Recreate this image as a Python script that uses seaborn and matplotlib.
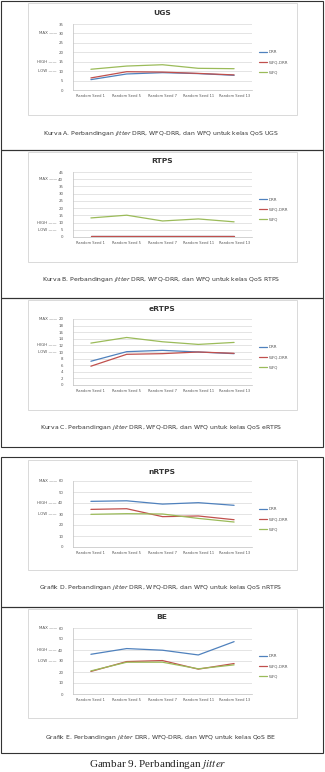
import matplotlib
matplotlib.use("Agg")
import matplotlib.pyplot as plt
from matplotlib.patches import Rectangle
import seaborn as sns
import pandas as pd

sns.set_theme(style="white")
plt.rcParams['font.family'] = ['DejaVu Sans']
plt.rcParams['mathtext.fontset'] = 'custom'
plt.rcParams['mathtext.it'] = 'DejaVu Sans:italic'
plt.rcParams['mathtext.rm'] = 'DejaVu Sans'

# ---------------- data ----------------
seeds = ['Random Seed 1', 'Random Seed 5', 'Random Seed 7', 'Random Seed 11', 'Random Seed 13']
series_names = ['DRR', 'WFQ-DRR', 'WFQ']

ugs_drr = [5.5, 8.5, 9.2, 8.7, 7.8]
ugs_wfqdrr = [6.4, 9.7, 9.5, 8.8, 8.0]
ugs_wfq = [11.0, 12.7, 13.4, 11.5, 11.3]

rtps_drr = [0.4, 0.4, 0.4, 0.4, 0.4]
rtps_wfqdrr = [0.5, 0.5, 0.5, 0.5, 0.5]
rtps_wfq = [13.2, 15.1, 11.1, 12.5, 10.5]

ertps_drr = [7.2, 10.1, 10.5, 10.0, 9.5]
ertps_wfqdrr = [5.7, 9.3, 9.5, 10.0, 9.6]
ertps_wfq = [12.7, 14.4, 13.1, 12.3, 12.9]

nrtps_drr = [41.5, 42.0, 39.0, 40.3, 37.9]
nrtps_wfqdrr = [34.2, 34.8, 27.6, 28.2, 24.8]
nrtps_wfq = [29.7, 30.3, 30.0, 26.0, 22.7]

be_drr = [36.1, 41.3, 39.8, 35.5, 47.6]
be_wfqdrr = [20.5, 29.5, 30.4, 22.6, 27.7]
be_wfq = [21.0, 28.9, 28.9, 22.9, 26.5]

titles = ['UGS', 'RTPS', 'eRTPS', 'nRTPS', 'BE']
captions = [
    r"Kurva A. Perbandingan $\mathit{jitter}$ DRR, WFQ-DRR, dan WFQ untuk kelas QoS UGS",
    r"Kurva B. Perbandingan $\mathit{jitter}$ DRR, WFQ-DRR, dan WFQ untuk kelas QoS RTPS",
    r"Kurva C. Perbandingan $\mathit{jitter}$ DRR, WFQ-DRR, dan WFQ untuk kelas QoS eRTPS",
    r"Grafik D. Perbandingan $\mathit{jitter}$ DRR, WFQ-DRR, dan WFQ untuk kelas QoS nRTPS",
    r"Grafik E. Perbandingan $\mathit{jitter}$ DRR, WFQ-DRR, dan WFQ untuk kelas QoS BE",
]
ymax_list = [35, 45, 20, 60, 60]
ystep_list = [5, 5, 2, 10, 10]
level_max = [30, 40, 20, 60, 60]
level_high = [15, 10, 12, 40, 40]
level_low = [10, 5, 10, 30, 30]

panel_data = [
    (ugs_drr, ugs_wfqdrr, ugs_wfq),
    (rtps_drr, rtps_wfqdrr, rtps_wfq),
    (ertps_drr, ertps_wfqdrr, ertps_wfq),
    (nrtps_drr, nrtps_wfqdrr, nrtps_wfq),
    (be_drr, be_wfqdrr, be_wfq),
]

palette = {'DRR': '#4F81BD', 'WFQ-DRR': '#C0504D', 'WFQ': '#9BBB59'}

# ---------------- layout (pixels) ----------------
W, H = 325, 772
fig = plt.figure(figsize=(W / 100, H / 100), dpi=100)
fig.patch.set_facecolor('white')

def fx(px):
    return px / W

def fy(py):
    return 1 - py / H

# outer boxes: (top, bottom)
outer = [(1, 150), (150, 298), (298, 447), (457, 607), (607, 753)]
for t, b in outer:
    fig.add_artist(Rectangle((fx(1), fy(b)), fx(322), (b - t) / H,
                             transform=fig.transFigure, fill=False,
                             edgecolor='#333333', linewidth=0.8))

# inner chart boxes
inner = [(3, 115), (152, 262), (300, 410), (460, 570), (609, 718)]
for t, b in inner:
    fig.add_artist(Rectangle((fx(28), fy(b)), fx(269), (b - t) / H,
                             transform=fig.transFigure, fill=False,
                             edgecolor='#d9d9d9', linewidth=0.7))

# plot area (top, bottom), title y, caption y
plot_tb = [(24, 90), (172, 237), (319, 385), (481, 547), (628, 694)]
title_y = [13, 161, 309, 472, 617]
caption_y = [133, 280, 428, 588, 737]

ax_left, ax_right = 73, 252

for i in range(5):
    t, b = plot_tb[i]
    ax = fig.add_axes([fx(ax_left), fy(b), fx(ax_right - ax_left), (b - t) / H])
    d1, d2, d3 = panel_data[i]
    df = pd.DataFrame({
        'seed': seeds * 3,
        'series': ['DRR'] * 5 + ['WFQ-DRR'] * 5 + ['WFQ'] * 5,
        'jitter': list(d1) + list(d2) + list(d3),
    })
    sns.lineplot(data=df, x='seed', y='jitter', hue='series', hue_order=series_names,
                 palette=palette, linewidth=0.9, ax=ax, sort=False)
    ax.set_xlim(-0.5, 4.5)
    ax.set_ylim(0, ymax_list[i])
    ax.set_yticks(list(range(0, ymax_list[i] + 1, ystep_list[i])))
    ax.set_xlabel('')
    ax.set_ylabel('')
    ax.grid(axis='y', color='#d9d9d9', linewidth=0.5)
    ax.grid(axis='x', visible=False)
    ax.set_axisbelow(True)
    for s in ['top', 'right']:
        ax.spines[s].set_visible(False)
    ax.spines['left'].set_color('#bfbfbf')
    ax.spines['bottom'].set_color('#bfbfbf')
    ax.spines['left'].set_linewidth(0.5)
    ax.spines['bottom'].set_linewidth(0.5)
    ax.tick_params(axis='y', length=0, pad=7, labelsize=2.8, labelcolor='#555555')
    ax.tick_params(axis='x', length=0, pad=3, labelsize=2.6, labelcolor='#555555')

    handles, labels = ax.get_legend_handles_labels()
    ax.legend(handles, labels, loc='center left', bbox_to_anchor=(1.03, 0.42),
              frameon=False, fontsize=2.9, handlelength=2.0, labelspacing=1.5,
              handletextpad=0.4, labelcolor='#555555', borderaxespad=0)

    ytr = ax.get_yaxis_transform()
    for lab, val in (('MAX', level_max[i]), ('HIGH', level_high[i]), ('LOW', level_low[i])):
        ax.text(-0.09, val, lab + ' \u2014\u2014', transform=ytr, ha='right', va='center',
                fontsize=2.9, color='#555555')

    fig.text(fx(162), fy(title_y[i]), titles[i], ha='center', va='center',
             fontsize=5.4, fontweight='bold', color='#333333')
    fig.text(fx(161), fy(caption_y[i]), captions[i], ha='center', va='center',
             fontsize=4.4, color='#333333')

fig.text(fx(158), fy(771), r"Gambar 9. Perbandingan $\mathit{jitter}$", ha='center', va='bottom',
         fontsize=8, color='#222222', family=['Liberation Serif', 'DejaVu Serif'],
         math_fontfamily='stix')

fig.savefig('out.png', dpi=100, facecolor='white')
